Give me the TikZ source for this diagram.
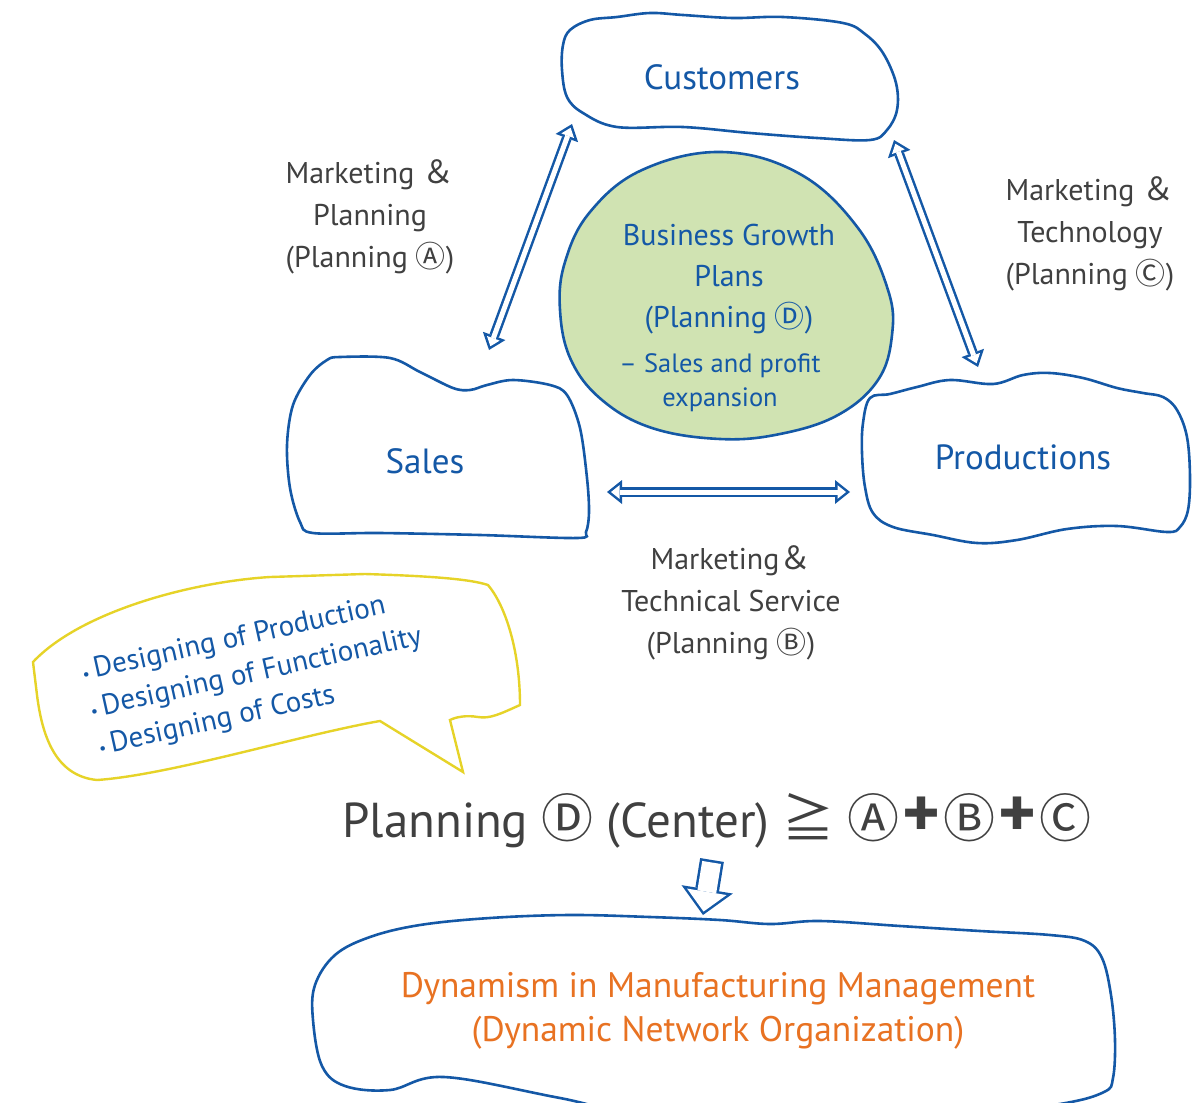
\documentclass[tikz,border=0pt]{standalone}
\usepackage{fontspec}
\setmainfont{PT Sans}
\newfontfamily\symfont{DejaVu Sans}
\newfontfamily\cjk{Noto Sans CJK JP}
\usetikzlibrary{arrows.meta, positioning}

\definecolor{blobblue}{RGB}{20,88,166}
\definecolor{labelgray}{RGB}{64,64,64}
\definecolor{growgreen}{RGB}{208,227,178}
\definecolor{dynorange}{RGB}{232,114,34}
\definecolor{bubyellow}{RGB}{230,211,40}

\newcommand{\circlet}[1]{{\cjk #1}}
\newcommand{\bigcirclet}[1]{{\cjk\fontsize{52}{52}\selectfont #1}}
\newcommand{\bigamp}{{\cjk\fontsize{32}{32}\selectfont ＆}}
\newcommand{\bulletdot}{{\fontsize{16}{16}\selectfont\textbullet}\,}
\newcommand{\heavyplus}{\kern3pt{\fontsize{72}{72}\selectfont\textbf{+}}\kern3pt}

\begin{document}
\begin{tikzpicture}[
  x=1pt, y=-1pt,
  blob/.style     = {draw=blobblue, line width=2.6pt, fill=white},
  blobtext/.style = {text=blobblue, font=\fontsize{35}{40}\selectfont},
  lab/.style      = {text=labelgray, align=center, font=\fontsize{30}{42}\selectfont},
  tipout/.tip     = {Triangle[width=24pt, length=15pt, line width=0pt]},
  tipin/.tip      = {Triangle[width=13.6pt, length=8.5pt, line width=0pt]},
  arrout/.style   = {draw=blobblue, line width=10pt, tipout-tipout},
  arrin/.style    = {draw=white, line width=5pt, shorten <=4pt, shorten >=4pt, tipin-tipin},
]
  \clip (0,0) rectangle (1195,1103);

  % Outlines of the four units
  \draw[blob] plot[smooth cycle, tension=0.6] coordinates {
    (570,30) (590,20) (617,17) (650,13) (683,15) (733,18) (783,17) (843,23) (865,34)
    (883,53) (896,83) (897,110) (887,130) (870,140) (817,138) (750,133) (683,127)
    (617,127) (583,113) (567,97) (562,70) (563,45)};
  \draw[blob] plot[smooth cycle, tension=0.55] coordinates {
    (340,357) (390,358) (420,372) (453,388) (470,390) (487,385) (513,380) (550,385)
    (567,395) (580,428) (587,478) (589,512) (586,532) (577,538) (480,535) (380,533)
    (313,533) (300,522) (290,488) (287,445) (293,405) (310,375) (327,360)};
  \draw[blob] plot[smooth cycle, tension=0.6] coordinates {
    (870,398) (890,394) (917,387) (950,380) (993,384) (1023,375) (1050,373) (1083,378)
    (1117,388) (1143,393) (1163,397) (1177,410) (1187,437) (1190,477) (1188,510)
    (1180,527) (1167,532) (1117,526) (1067,529) (1017,540) (977,543) (933,535)
    (893,527) (873,513) (865,487) (862,453) (863,423)};
  \draw[blob] plot[smooth cycle, tension=0.6] coordinates {
    (335,955) (370,937) (420,925) (490,918) (570,915) (650,917) (720,920) (770,924)
    (820,921) (900,926) (980,931) (1050,935) (1085,941) (1102,958) (1111,995)
    (1115,1040) (1113,1078) (1104,1092) (1060,1104) (950,1118) (700,1125) (560,1098)
    (444,1077) (390,1090) (345,1086) (322,1066) (313,1020) (315,985)};

  % Centre plan
  \draw[draw=blobblue, line width=2.6pt, fill=growgreen] plot[smooth cycle, tension=0.65] coordinates {
    (722,152) (800,174) (858,228) (888,290) (892,335) (878,380) (838,415) (780,434)
    (720,439) (652,428) (602,400) (571,360) (560,310) (565,262) (590,212) (642,170)};

  % Speech bubble
  \draw[draw=bubyellow, line width=2.4pt, fill=white]
    (463,772) -- (380,721) .. controls (300,735) and (170,775) .. (97,780)
    .. controls (55,776) and (42,735) .. (37,695) -- (33,662)
    .. controls (80,612) and (190,582) .. (270,577) -- (365,574)
    .. controls (430,576) and (470,579) .. (488,585)
    .. controls (505,605) and (520,650) .. (520,705)
    .. controls (500,714) and (490,719) .. (478,717)
    .. controls (466,715) and (456,717) .. (450,720) -- cycle;

  % Texts
  \node[blobtext] (cus) at (722,77)  {Customers};
  \node[blobtext] (sal) at (425,461) {Sales};
  \node[blobtext] (pro) at (1023,457) {Productions};

  \node[text=blobblue, align=center, font=\fontsize{30}{41}\selectfont] (grow) at (729,279)
    {Business Growth\\Plans\\(Planning \circlet{Ⓓ})};
  \node[text=blobblue, align=center, font=\fontsize{26.5}{34}\selectfont] (growsub) at (720,383)
    {– Sales and profit\\expansion};

  \node[lab] (labA) at (370,217)  {Marketing \bigamp\\Planning\\(Planning \circlet{Ⓐ})};
  \node[lab] (labC) at (1090,234) {Marketing \bigamp\\Technology\\(Planning \circlet{Ⓒ})};
  \node[lab] (labB) at (731,603)  {Marketing\bigamp\\Technical Service\\(Planning \circlet{Ⓑ})};

  \node[text=blobblue, align=left, rotate=12.5, font=\fontsize{29}{38}\selectfont] (bubtext) at (256,674)
    {\bulletdot Designing of Production\\\bulletdot Designing of Functionality\\\bulletdot Designing of Costs};

  \node[text=labelgray, font=\fontsize{49}{56}\selectfont] (formula) at (717,821)
    {Planning \bigcirclet{Ⓓ} (Center) \bigcirclet{≧} \bigcirclet{Ⓐ}\heavyplus\bigcirclet{Ⓑ}\heavyplus\bigcirclet{Ⓒ}};

  \node[text=dynorange, align=center, font=\fontsize{35.5}{44}\selectfont] (dyn) at (718,1011)
    {Dynamism in Manufacturing Management\\(Dynamic Network Organization)};

  % Connectors
  \coordinate (salTip)  at (489,350);
  \coordinate (cusTipL) at (572,124);
  \coordinate (cusTipR) at (894,140);
  \coordinate (proTip)  at (978,367);
  \coordinate (salTipR) at (607,492);
  \coordinate (proTipL) at (850,492);
  \foreach \a/\b in {salTip/cusTipL, cusTipR/proTip, salTipR/proTipL} {
    \draw[arrout] (\a) -- (\b);
    \draw[arrin]  (\a) -- (\b);
  }
  \coordinate (arrTop) at (712,860);
  \coordinate (arrTip) at (703,915);
  \draw[draw=blobblue, line width=24pt, -{Triangle[width=52pt, length=26pt, line width=0pt]}] (arrTop) -- (arrTip);
  \draw[draw=white, line width=19pt, shorten <=2.5pt, shorten >=3.5pt,
        -{Triangle[width=40pt, length=20pt, line width=0pt]}] (arrTop) -- (arrTip);
\end{tikzpicture}
\end{document}
